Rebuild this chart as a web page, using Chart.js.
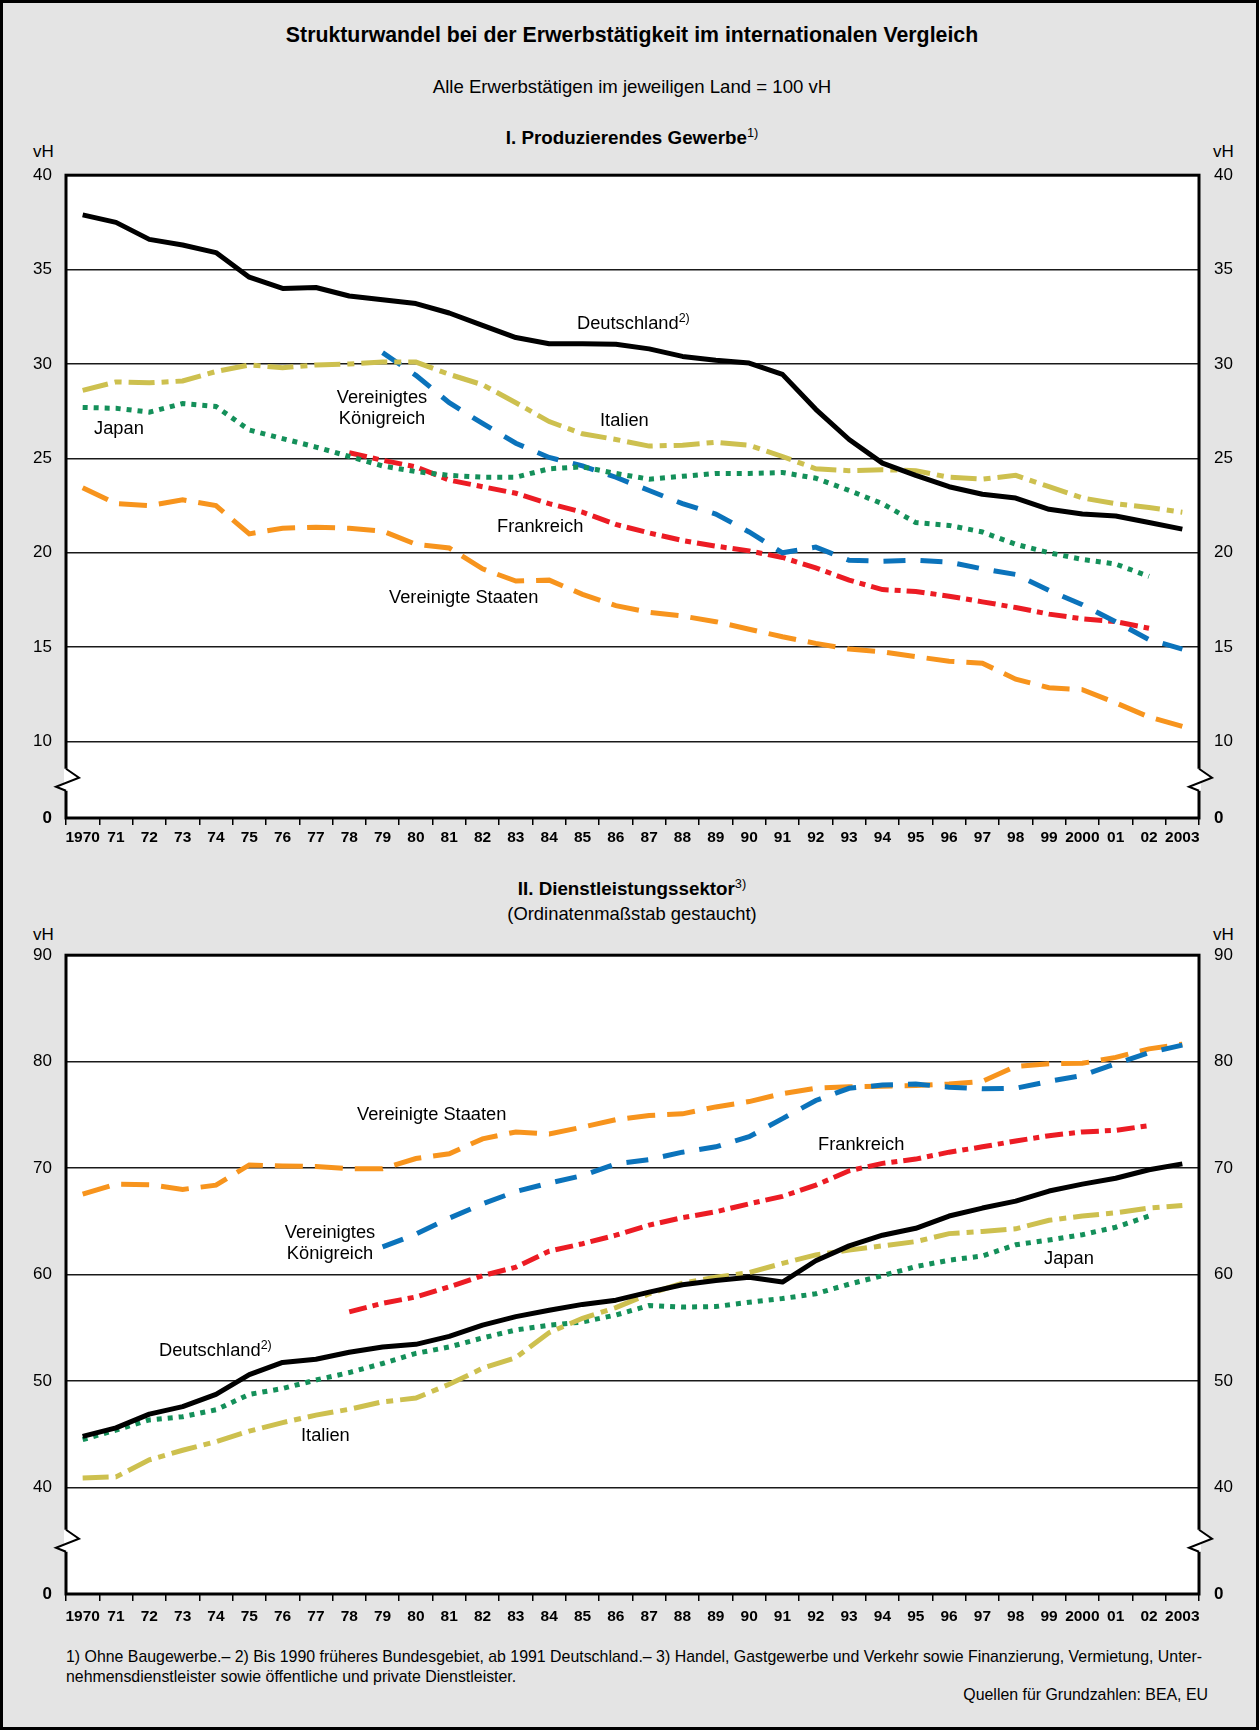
<!DOCTYPE html>
<html>
<head>
<meta charset="utf-8">
<script src="https://cdn.jsdelivr.net/npm/chart.js@4.4.1/dist/chart.umd.min.js"></script>
<style>
html, body { margin: 0; padding: 0; }
body {
  width: 1259px; height: 1730px; position: relative; overflow: hidden;
  background: #e4e4e4; color: #000;
  font-family: 'Liberation Sans', Arial, Helvetica, sans-serif;
}
.t { position: absolute; white-space: nowrap; line-height: 1; transform: translateY(-50%); }
.c { transform: translate(-50%, -50%); text-align: center; }
.r { transform: translate(-100%, -50%); }
.sup { font-size: 0.68em; position: relative; top: -0.55em; }
.lab { font-size: 18.3px; }
.note { font-size: 15.9px; }
canvas { position: absolute; left: 0; }
#frame { position: absolute; left: 0; top: 0; width: 1259px; height: 1730px; box-sizing: border-box; border: 3px solid #000; pointer-events: none; }
</style>
</head>
<body>

<div class="t c" style="left:632px;top:36px;font-size:21.3px;font-weight:bold">Strukturwandel bei der Erwerbstätigkeit im internationalen Vergleich</div>
<div class="t c" style="left:632px;top:87px;font-size:18.6px">Alle Erwerbstätigen im jeweiligen Land = 100 vH</div>
<div class="t c" style="left:632px;top:138px;font-size:18.8px;font-weight:bold">I. Produzierendes Gewerbe<span class="sup" style="font-weight:normal">1)</span></div>
<div class="t" style="left:33px;top:151px;font-size:17px">vH</div>
<div class="t" style="left:1213px;top:151px;font-size:17px">vH</div>

<canvas id="top" width="1259" height="710" style="top:150px"></canvas>

<div class="t lab" style="left:577px;top:323px">Deutschland<span class="sup">2)</span></div>
<div class="t lab c" style="left:382px;top:407px;line-height:21px">Vereinigtes<br>Königreich</div>
<div class="t lab" style="left:94px;top:428px">Japan</div>
<div class="t lab" style="left:600px;top:420px">Italien</div>
<div class="t lab" style="left:497px;top:526px">Frankreich</div>
<div class="t lab" style="left:389px;top:597px">Vereinigte Staaten</div>

<div class="t c" style="left:632px;top:889px;font-size:18.8px;font-weight:bold">II. Dienstleistungssektor<span class="sup" style="font-weight:normal">3)</span></div>
<div class="t c" style="left:632px;top:914px;font-size:18.4px">(Ordinatenmaßstab gestaucht)</div>
<div class="t" style="left:33px;top:934px;font-size:17px">vH</div>
<div class="t" style="left:1213px;top:934px;font-size:17px">vH</div>

<canvas id="bottom" width="1259" height="710" style="top:930px"></canvas>

<div class="t lab" style="left:357px;top:1114px">Vereinigte Staaten</div>
<div class="t lab" style="left:818px;top:1144px">Frankreich</div>
<div class="t lab c" style="left:330px;top:1242px;line-height:21px">Vereinigtes<br>Königreich</div>
<div class="t lab" style="left:159px;top:1350px">Deutschland<span class="sup">2)</span></div>
<div class="t lab" style="left:301px;top:1435px">Italien</div>
<div class="t lab" style="left:1044px;top:1258px">Japan</div>

<div class="t note" style="left:66px;top:1657px">1) Ohne Baugewerbe.– 2) Bis 1990 früheres Bundesgebiet, ab 1991 Deutschland.– 3) Handel, Gastgewerbe und Verkehr sowie Finanzierung, Vermietung, Unter-</div>
<div class="t note" style="left:66px;top:1677px">nehmensdienstleister sowie öffentliche und private Dienstleister.</div>
<div class="t r note" style="left:1208px;top:1695px">Quellen für Grundzahlen: BEA, EU</div>

<div id="frame"></div>

<script>
var FONT = "'Liberation Sans', Arial, Helvetica, sans-serif";

var years = ['1970','71','72','73','74','75','76','77','78','79',
             '80','81','82','83','84','85','86','87','88','89',
             '90','91','92','93','94','95','96','97','98','99',
             '2000','01','02','2003'];

// I. Produzierendes Gewerbe (vH)
var deTop = [37.9, 37.5, 36.6, 36.3, 35.9, 34.6, 34.0, 34.05, 33.6, 33.4,
             33.2, 32.7, 32.05, 31.4, 31.07, 31.07, 31.04, 30.8, 30.4, 30.2,
             30.05, 29.45, 27.6, 26.0, 24.75, 24.1, 23.5, 23.1, 22.9, 22.3,
             22.05, 21.95, 21.6, 21.25];
var itTop = [28.6, 29.05, 29.0, 29.1, 29.6, 29.95, 29.8, 29.95, 30.0, 30.1,
             30.1, 29.45, 28.9, 27.95, 26.95, 26.3, 26.0, 25.65, 25.7, 25.85,
             25.7, 25.1, 24.45, 24.35, 24.4, 24.35, 24.0, 23.9, 24.1, 23.5,
             22.9, 22.6, 22.4, 22.15];
var jpTop = [27.7, 27.65, 27.45, 27.9, 27.75, 26.5, 26.05, 25.6, 25.1, 24.6,
             24.3, 24.1, 24.0, 24.0, 24.45, 24.55, 24.2, 23.9, 24.05, 24.2,
             24.2, 24.25, 23.95, 23.3, 22.6, 21.6, 21.45, 21.1, 20.45, 20.0,
             19.65, 19.4, 18.75, null];
var ukTop = [null, null, null, null, null, null, null, null, null, 30.6,
             29.4, 27.95, 26.85, 25.8, 25.05, 24.6, 24.0, 23.3, 22.6, 22.05,
             21.1, 20.0, 20.3, 19.6, 19.55, 19.6, 19.5, 19.15, 18.85, 18.0,
             17.25, 16.35, 15.4, 14.9];
var frTop = [null, null, null, null, null, null, null, null, 25.3, 24.9,
             24.55, 23.85, 23.5, 23.15, 22.6, 22.15, 21.5, 21.05, 20.65, 20.35,
             20.1, 19.75, 19.2, 18.55, 18.05, 17.95, 17.7, 17.4, 17.1, 16.75,
             16.5, 16.35, 16.0, null];
var usTop = [23.45, 22.6, 22.5, 22.8, 22.5, 21.0, 21.3, 21.35, 21.3, 21.15,
             20.45, 20.25, 19.15, 18.5, 18.55, 17.8, 17.2, 16.85, 16.65, 16.35,
             15.95, 15.55, 15.2, 14.9, 14.75, 14.5, 14.25, 14.15, 13.3, 12.85,
             12.75, 12.05, 11.3, 10.8];

// II. Dienstleistungssektor (vH)
var deBot = [44.8, 45.6, 46.9, 47.6, 48.75, 50.6, 51.75, 52.05, 52.7, 53.2,
             53.45, 54.2, 55.25, 56.05, 56.65, 57.2, 57.6, 58.35, 59.05, 59.45,
             59.75, 59.3, 61.3, 62.7, 63.7, 64.35, 65.5, 66.25, 66.9, 67.85,
             68.5, 69.05, 69.85, 70.4];
var itBot = [40.9, 41.0, 42.6, 43.5, 44.3, 45.3, 46.1, 46.8, 47.35, 48.05,
             48.4, 49.7, 51.2, 52.2, 54.55, 55.9, 56.9, 58.2, 59.2, 59.75,
             60.2, 61.05, 61.85, 62.3, 62.7, 63.1, 63.85, 64.05, 64.3, 65.1,
             65.5, 65.8, 66.25, 66.5];
var jpBot = [44.5, 45.4, 46.35, 46.65, 47.3, 48.75, 49.3, 50.1, 50.8, 51.65,
             52.6, 53.2, 54.05, 54.8, 55.25, 55.55, 56.2, 57.1, 56.95, 57.0,
             57.4, 57.75, 58.2, 59.1, 59.9, 60.75, 61.35, 61.75, 62.8, 63.25,
             63.75, 64.45, 65.5, null];
var ukBot = [null, null, null, null, null, null, null, null, null, 62.6,
             63.8, 65.3, 66.65, 67.8, 68.6, 69.3, 70.4, 70.8, 71.5, 72.0,
             72.95, 74.65, 76.35, 77.5, 77.8, 77.9, 77.6, 77.45, 77.5, 78.15,
             78.7, 79.8, 80.85, 81.55];
var frBot = [null, null, null, null, null, null, null, null, 56.5, 57.3,
             57.9, 58.85, 59.9, 60.7, 62.2, 62.9, 63.7, 64.65, 65.35, 65.9,
             66.65, 67.35, 68.4, 69.75, 70.45, 70.85, 71.5, 72.0, 72.55, 73.05,
             73.4, 73.55, 74.0, null];
var usBot = [67.55, 68.5, 68.45, 68.0, 68.4, 70.3, 70.2, 70.15, 69.95, 69.95,
             70.9, 71.35, 72.75, 73.4, 73.2, 73.85, 74.55, 74.95, 75.1, 75.75,
             76.25, 77.0, 77.5, 77.65, 77.7, 77.75, 77.9, 78.15, 79.55, 79.8,
             79.85, 80.4, 81.2, 81.65];

// y ticks; the lowest one sits under the axis break and is labelled 0
var topTicks = [5.95, 10, 15, 20, 25, 30, 35, 40];
var botTicks = [30, 40, 50, 60, 70, 80, 90];

var lineStyle = {
  de: { color: '#000000', dash: [] },
  it: { color: '#cdc04f', dash: [26, 7, 7, 7] },
  jp: { color: '#14905a', dash: [5, 6] },
  uk: { color: '#0b73bb', dash: [22, 15] },
  fr: { color: '#ec1c24', dash: [18, 6, 6, 6] },
  us: { color: '#f7941d', dash: [28, 12] }
};

function ds(key, values) {
  var s = lineStyle[key];
  return {
    data: values,
    borderColor: s.color,
    borderDash: s.dash,
    borderWidth: 5,
    borderCapStyle: 'butt',
    borderJoinStyle: key === 'de' ? 'round' : 'miter',
    pointRadius: 0,
    tension: 0,
    fill: false,
    spanGaps: false
  };
}

var framePlugin = {
  id: 'frame',
  beforeDraw: function(chart) {
    var a = chart.chartArea, c = chart.ctx;
    c.save();
    c.fillStyle = '#fff';
    c.fillRect(a.left, a.top, a.right - a.left, a.bottom - a.top);
    c.restore();
  },
  afterDatasetsDraw: function(chart) {
    var a = chart.chartArea, c = chart.ctx, y = chart.scales.y;
    c.save();
    c.strokeStyle = '#000';
    c.lineWidth = 3;
    c.strokeRect(a.left, a.top, a.right - a.left, a.bottom - a.top);
    // axis break between the 0 tick and the first real tick
    var yc = (y.getPixelForValue(y.ticks[0].value) + y.getPixelForValue(y.ticks[1].value)) / 2;
    [a.left, a.right].forEach(function(x0) {
      c.fillStyle = '#fff';
      c.fillRect(x0 - 2, yc - 11, 4, 22);
      c.beginPath();
      c.moveTo(x0, yc - 11);
      c.lineTo(x0 + 13, yc - 2);
      c.lineTo(x0 - 10, yc + 7);
      c.lineTo(x0, yc + 11);
      c.closePath();
      c.fill();
      c.beginPath();
      c.moveTo(x0, yc - 11);
      c.lineTo(x0 + 13, yc - 2);
      c.lineTo(x0 - 10, yc + 7);
      c.lineTo(x0, yc + 11);
      c.lineWidth = 2;
      c.stroke();
    });
    c.restore();
  }
};

function yAxis(ticks, position, width, pad, gridOn) {
  var lo = ticks[0], hi = ticks[ticks.length - 1];
  return {
    position: position,
    min: lo,
    max: hi,
    afterBuildTicks: function(scale) {
      scale.ticks = ticks.map(function(v) { return { value: v }; });
    },
    afterFit: function(scale) { scale.width = width; },
    border: { display: false },
    grid: {
      display: gridOn,
      drawTicks: false,
      lineWidth: 1.5,
      color: function(ctx) {
        var v = ctx.tick ? ctx.tick.value : lo;
        return (v > lo && v < hi) ? '#1a1a1a' : 'rgba(0,0,0,0)';
      }
    },
    ticks: {
      padding: pad,
      color: '#000',
      callback: function(v) { return v === lo ? '0' : String(v); },
      font: function(ctx) {
        var bold = ctx.tick && ctx.tick.value === lo;
        return { family: FONT, size: 17, weight: bold ? 'bold' : 'normal' };
      }
    }
  };
}

function makeChart(id, datasets, ticks, padTop, xHeight, labelPad) {
  return new Chart(document.getElementById(id), {
    type: 'line',
    data: { labels: years, datasets: datasets },
    options: {
      responsive: false,
      animation: false,
      devicePixelRatio: 1,
      layout: { padding: { top: padTop, left: 0, right: 0, bottom: 0 } },
      plugins: { legend: { display: false }, tooltip: { enabled: false } },
      scales: {
        x: {
          type: 'category',
          offset: true,
          afterFit: function(scale) { scale.height = xHeight; },
          border: { display: false },
          grid: {
            offset: true,
            drawOnChartArea: false,
            drawTicks: true,
            tickLength: 7,
            lineWidth: 1.5,
            color: '#000'
          },
          ticks: {
            autoSkip: false,
            maxRotation: 0,
            minRotation: 0,
            padding: labelPad,
            color: '#000',
            font: { family: FONT, size: 15.5, weight: 'bold' }
          }
        },
        y: yAxis(ticks, 'left', 66, 14, true),
        y2: yAxis(ticks, 'right', 60, 15, false)
      }
    },
    plugins: [framePlugin]
  });
}

makeChart('top', [
  ds('de', deTop), ds('it', itTop), ds('jp', jpTop),
  ds('uk', ukTop), ds('fr', frTop), ds('us', usTop)
], topTicks, 24, 42, 3);

makeChart('bottom', [
  ds('de', deBot), ds('it', itBot), ds('jp', jpBot),
  ds('uk', ukBot), ds('fr', frBot), ds('us', usBot)
], botTicks, 21, 46, 6);
</script>
</body>
</html>
